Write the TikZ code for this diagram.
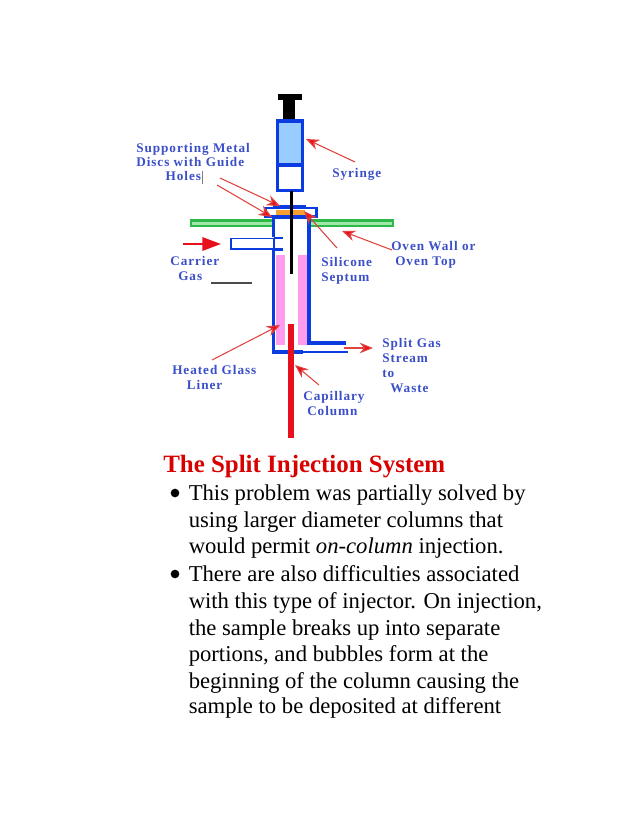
\documentclass[tikz,border=0pt]{standalone}
\usepackage{fontspec}
\setmainfont{Liberation Serif}
\newfontfamily\lblfont[LetterSpace=7.3]{Liberation Serif}
\usetikzlibrary{arrows.meta}
\definecolor{lblblue}{HTML}{3B4FC8}
\definecolor{wallblue}{HTML}{0A3CE0}
\definecolor{callred}{HTML}{E0433F}
\definecolor{tipred}{HTML}{E8101C}
\definecolor{pinkfill}{HTML}{FF9CF0}
\definecolor{syrfill}{HTML}{99CCFF}
\definecolor{greenbar}{HTML}{2DB84A}
\definecolor{greenin}{HTML}{A0E8A8}
\definecolor{orangefill}{HTML}{F5A030}
\tikzset{
  lbl/.style={font=\lblfont\bfseries\fontsize{9.9}{11.2}\selectfont,text=lblblue,align=left,inner sep=0pt,anchor=north west},
  callout/.style={draw=callred,line width=0.8pt,-{Stealth[length=10pt,width=8pt,fill=tipred]}},
  wall/.style={draw=wallblue,line width=2.5pt},
  thinwall/.style={draw=wallblue,line width=1.1pt},
  body/.style={font=\fontsize{17}{20}\selectfont,inner sep=0pt,anchor=base west,text=black},
  bull/.style={circle,fill=black,inner sep=0pt,minimum size=6.5pt}
}
\begin{document}
\begin{tikzpicture}[x=0.75pt,y=-0.75pt]
\useasboundingbox (0,0) rectangle (638,826);
\fill[white] (0,0) rectangle (638,826);
% oven wall
\fill[greenin] (190,220) rectangle (393,226);
\draw[greenbar,line width=1.8pt] (191,220.5) rectangle (393,226);
\fill[white] (274,218) rectangle (309,230);
% pink liner
\fill[pinkfill] (276,255) rectangle (285,345);
\fill[pinkfill] (298,255) rectangle (307,345);
% syringe
\fill[black] (278,94) rectangle (302,100);
\fill[black] (283,100) rectangle (295,120);
\fill[syrfill] (278,121) rectangle (302,165);
\draw[wall] (277.5,121) rectangle (302.5,190.5);
\draw[wall] (277.5,165) -- (302.5,165);
% injector head
\draw[thinwall,line width=1.6pt,fill=white] (265.5,208) rectangle (316.5,216.5);
\fill[orangefill] (276,210) rectangle (305,215);
\draw[wall] (273,207) -- (306,207);
\draw[wall] (273,217.5) -- (309,217.5);
% tube walls
\draw[wall] (273.5,217) -- (273.5,237);
\draw[wall] (273.5,250) -- (273.5,352) -- (303,352);
\draw[thinwall,line width=1.6pt] (303,352) -- (348,352);
\draw[wall] (309,217) -- (309,343) -- (346,343);
% carrier inlet
\draw[thinwall] (231,238.5) rectangle (274,249);
\draw[wall,line width=1.6pt] (274,238) -- (283,238);
\draw[wall,line width=1.6pt] (274,249.5) -- (283,249.5);
% needle and column
\fill[black] (289.5,191) rectangle (292.5,274);
\fill[tipred] (288,324) rectangle (294,438);
% free ends of connectors
\coordinate (syrTail) at (355,162);
\coordinate (syrTip) at (306,139);
\coordinate (sup1Tail) at (220,178);
\coordinate (sup1Tip) at (280,206);
\coordinate (sup2Tail) at (217,185);
\coordinate (sup2Tip) at (272,217);
\coordinate (sepTail) at (337,248);
\coordinate (sepTip) at (304,211);
\coordinate (ovenTail) at (392,250);
\coordinate (ovenTip) at (342,231);
\coordinate (heatTail) at (212,360);
\coordinate (heatTip) at (280,325);
\coordinate (capTail) at (319,385);
\coordinate (capTip) at (295,365);
\coordinate (splitTail) at (344,348);
\coordinate (splitTip) at (373,348);
\coordinate (carTail) at (183,244);
\coordinate (carTip) at (221,244);
\coordinate (dashL) at (211,283);
\coordinate (dashR) at (252,283);
\coordinate (curT) at (202.5,171);
\coordinate (curB) at (202.5,184);
\draw[callout] (syrTail) -- (syrTip);
\draw[callout] (sup1Tail) -- (sup1Tip);
\draw[callout] (sup2Tail) -- (sup2Tip);
\draw[callout] (sepTail) -- (sepTip);
\draw[callout] (ovenTail) -- (ovenTip);
\draw[callout] (heatTail) -- (heatTip);
\draw[callout] (capTail) -- (capTip);
\draw[callout] (splitTail) -- (splitTip);
\draw[tipred,line width=1.6pt,-{Triangle[length=14pt,width=10pt]}] (carTail) -- (carTip);
\draw[black!70,line width=0.9pt] (dashL) -- (dashR);
\draw[black!50,line width=0.5pt] (curT) -- (curB);
% labels
\node[lbl] (supLbl) at (136,143) {Supporting Metal\\[-0.5pt]Discs with Guide\\[-0.5pt]\hspace{22pt}Holes};
\node[lbl] (syrLbl) at (332,168) {Syringe};
\node[lbl] (ovenLbl) at (391,241) {Oven Wall or\\\hspace{3pt}Oven Top};
\node[lbl] (carLbl) at (170,256) {Carrier\\\hspace{6pt}Gas};
\node[lbl] (sepLbl) at (321,257) {Silicone\\Septum};
\node[lbl] (heatLbl) at (172,365) {Heated Glass\\\hspace{11pt}Liner};
\node[lbl] (splitLbl) at (382,338) {Split Gas\\Stream\\to\\\hspace{6pt}Waste};
\node[lbl] (capLbl) at (303,391) {Capillary\\\hspace{3pt}Column};
% text
\node[font=\bfseries\fontsize{18.7}{22}\selectfont,text=red!85!black,inner sep=0pt,anchor=base west] (title) at (163,472) {The Split Injection System};
\node[bull] (b1) at (175,493) {};
\node[body] (t1) at (188.5,500) {This problem was partially solved by};
\node[body] (t2) at (188.5,527) {using larger diameter columns that};
\node[body] (t3) at (188.5,553) {would permit \textit{on-column} injection.};
\node[bull] (b2) at (175,574) {};
\node[body] (t4) at (188.5,581) {There are also difficulties associated};
\node[body] (t5) at (188.5,608) {with this type of injector. On injection,};
\node[body] (t6) at (188.5,635) {the sample breaks up into separate};
\node[body] (t7) at (188.5,661) {portions, and bubbles form at the};
\node[body] (t8) at (188.5,688) {beginning of the column causing the};
\node[body] (t9) at (188.5,713) {sample to be deposited at different};
\end{tikzpicture}
\end{document}
